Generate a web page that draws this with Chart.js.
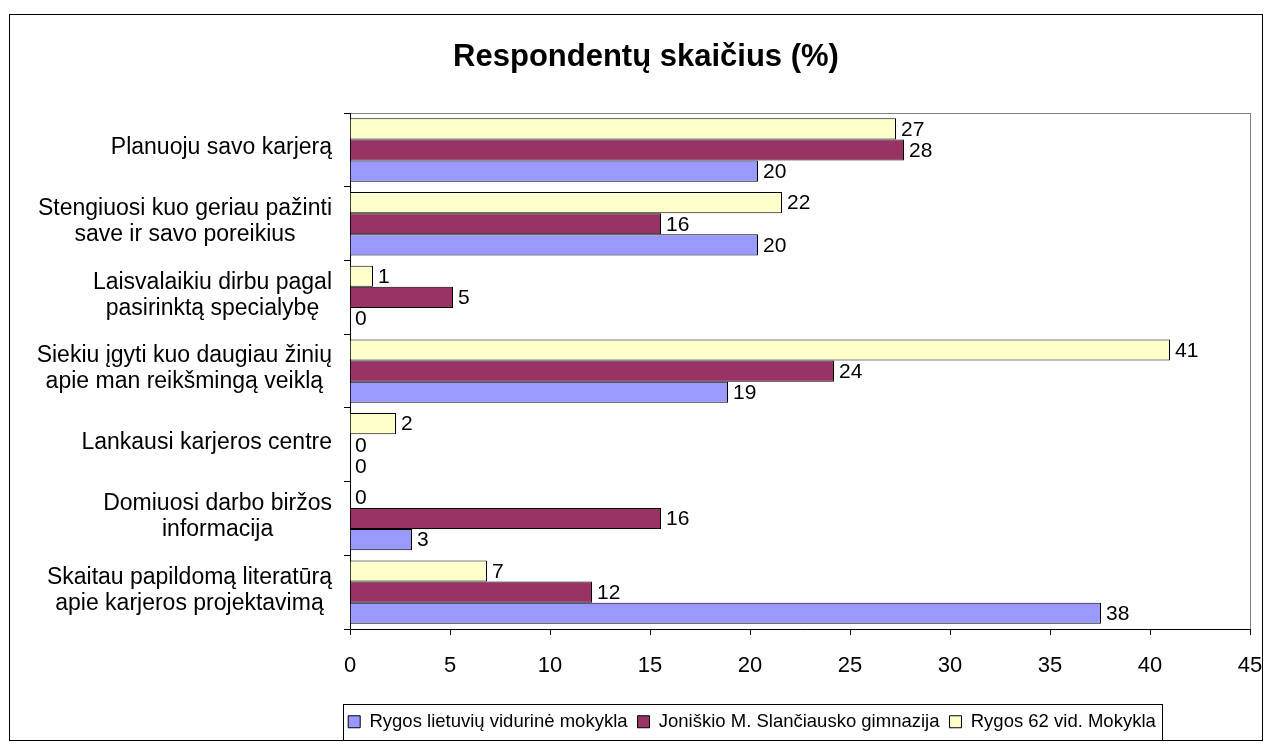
<!DOCTYPE html>
<html>
<head>
<meta charset="utf-8">
<script src="https://cdn.jsdelivr.net/npm/chart.js@4.4.1/dist/chart.umd.min.js"></script>
<style>
    html, body { margin: 0; padding: 0; background: #fff; }
    #wrap { width: 1272px; height: 748px; position: relative; }
</style>
</head>
<body>
<div id="wrap"><canvas id="chart"></canvas></div>
<script>
const chartTitle = 'Respondentų skaičius (%)';

// category labels, top to bottom (one entry per line)
const categories = [
    ['Planuoju savo karjerą'],
    ['Stengiuosi kuo geriau pažinti', 'save ir savo poreikius'],
    ['Laisvalaikiu dirbu pagal', 'pasirinktą specialybę'],
    ['Siekiu įgyti kuo daugiau žinių', 'apie man reikšmingą veiklą'],
    ['Lankausi karjeros centre'],
    ['Domiuosi darbo biržos', 'informacija'],
    ['Skaitau papildomą literatūrą', 'apie karjeros projektavimą']
];

const seriesNames = [
    'Rygos lietuvių vidurinė mokykla',
    'Joniškio M. Slančiausko gimnazija',
    'Rygos 62 vid. Mokykla'
];
const seriesColors = ['#9999FF', '#993366', '#FFFFCC'];

const rygosLietuviu = [20.4, 20.4, 0, 18.9, 0, 3.1, 37.55];
const joniskio = [27.7, 15.55, 5.15, 24.2, 0, 15.55, 12.1];
const rygos62 = [27.3, 21.6, 1.15, 41.0, 2.3, 0, 6.85];

const xMin = 0;
const xMax = 45;
const xStep = 5;

const FONT = '"Liberation Sans", Arial, sans-serif';

// white background, outer frame and grey plot-area frame
const framePlugin = {
    id: 'frame',
    beforeDraw(chart) {
        const {ctx, chartArea: a} = chart;
        ctx.save();
        ctx.fillStyle = '#fff';
        ctx.fillRect(0, 0, chart.width, chart.height);
        ctx.strokeStyle = '#000';
        ctx.lineWidth = 1;
        ctx.strokeRect(9.5, 14.5, 1253, 726);
        ctx.strokeStyle = '#808080';
        ctx.strokeRect(Math.round(a.left) + 0.5, Math.round(a.top) + 0.5,
            Math.round(a.right - a.left), Math.round(a.bottom - a.top));
        ctx.restore();
    }
};

// centered multi-line category labels, block aligned to the axis
const yLabelsPlugin = {
    id: 'yLabels',
    afterDraw(chart) {
        const {ctx} = chart;
        const yScale = chart.scales.y;
        const right = chart.chartArea.left - 18;
        const lineH = 26;
        ctx.save();
        ctx.font = '23px ' + FONT;
        ctx.fillStyle = '#000';
        ctx.textAlign = 'center';
        ctx.textBaseline = 'middle';
        categories.forEach((lines, i) => {
            const cy = yScale.getPixelForValue(i) - 2;
            const maxW = Math.max(...lines.map(l => ctx.measureText(l).width));
            const cx = right - maxW / 2;
            lines.forEach((l, j) => {
                ctx.fillText(l, cx, cy + (j - (lines.length - 1) / 2) * lineH);
            });
        });
        ctx.restore();
    }
};

// value labels to the right of each bar
const valueLabelsPlugin = {
    id: 'valueLabels',
    afterDatasetsDraw(chart) {
        const {ctx} = chart;
        ctx.save();
        ctx.font = '21px ' + FONT;
        ctx.fillStyle = '#000';
        ctx.textAlign = 'left';
        ctx.textBaseline = 'middle';
        chart.data.datasets.forEach((ds, di) => {
            const meta = chart.getDatasetMeta(di);
            meta.data.forEach((bar, i) => {
                ctx.fillText(String(Math.round(ds.data[i])), bar.x + 5, bar.y + 1);
            });
        });
        ctx.restore();
    }
};

// move the legend under the plot and put a box round it
const legendBoxPlugin = {
    id: 'legendBox',
    afterLayout(chart) {
        const lg = chart.legend;
        const dx = 752 - (lg.left + lg.right) / 2;
        lg.left += dx;
        lg.right += dx;
        const h = lg.height;
        lg.top = 702.5;
        lg.bottom = lg.top + h;
    },
    afterDraw(chart) {
        const lg = chart.legend;
        if (!lg.lineWidths) return;
        const pad = lg.options.labels.padding;
        const L = lg.lineWidths[0];
        const start = (lg.left + pad + lg.right - L) / 2;
        const end = start + L - pad;
        const {ctx} = chart;
        ctx.save();
        ctx.strokeStyle = '#000';
        ctx.lineWidth = 1;
        ctx.strokeRect(Math.round(start - 5) + 0.5, 704.5, Math.round(end - start + 11), 36);
        ctx.restore();
    }
};

const ctx = document.getElementById('chart');

new Chart(ctx, {
    type: 'bar',
    data: {
        labels: categories,
        datasets: [
            { label: seriesNames[2], data: rygos62, backgroundColor: seriesColors[2] },
            { label: seriesNames[1], data: joniskio, backgroundColor: seriesColors[1] },
            { label: seriesNames[0], data: rygosLietuviu, backgroundColor: seriesColors[0] }
        ].map(d => Object.assign(d, {
            borderColor: '#000',
            borderWidth: 1,
            categoryPercentage: 0.86,
            barPercentage: 1.0
        }))
    },
    options: {
        indexAxis: 'y',
        responsive: true,
        maintainAspectRatio: false,
        animation: false,
        layout: {
            padding: { left: 20, right: 0, top: 0, bottom: 0 }
        },
        scales: {
            x: {
                type: 'linear',
                position: 'bottom',
                min: xMin,
                max: xMax,
                ticks: {
                    stepSize: xStep,
                    color: '#000',
                    padding: 18,
                    maxRotation: 0,
                    font: { family: FONT, size: 22 }
                },
                grid: {
                    drawOnChartArea: false,
                    drawTicks: true,
                    tickLength: 6,
                    color: '#000'
                },
                border: { color: '#000', width: 1 },
                afterFit(scale) {
                    scale.height = 748 - 629 - scale.chart.legend.height;
                    scale.paddingRight = 22;
                    scale.paddingLeft = 0;
                }
            },
            y: {
                type: 'category',
                ticks: { display: false },
                grid: {
                    drawOnChartArea: false,
                    drawTicks: true,
                    tickLength: 6,
                    color: '#000',
                    offset: true
                },
                border: { color: '#000', width: 1 },
                afterFit(scale) {
                    scale.width = 330;
                }
            }
        },
        plugins: {
            title: {
                display: true,
                text: chartTitle,
                color: '#000',
                font: { family: FONT, size: 31, weight: 'bold' },
                padding: { top: 39, bottom: 37 }
            },
            legend: {
                position: 'bottom',
                reverse: true,
                labels: {
                    color: '#000',
                    boxWidth: 12,
                    boxHeight: 12,
                    padding: 10,
                    font: { family: FONT, size: 18.5 }
                }
            },
            tooltip: { enabled: false }
        }
    },
    plugins: [framePlugin, yLabelsPlugin, valueLabelsPlugin, legendBoxPlugin]
});
</script>
</body>
</html>
